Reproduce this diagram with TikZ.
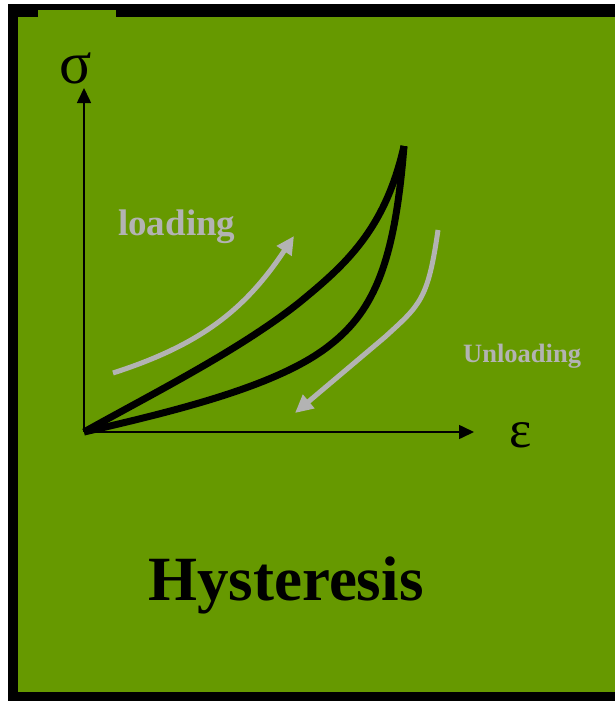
\documentclass[tikz,border=0pt]{standalone}
\usepackage{fontspec}
\setmainfont{Liberation Serif}
\usetikzlibrary{arrows.meta}
\definecolor{OliveGreen}{HTML}{669900}
\definecolor{SoftGray}{HTML}{B3B3B3}

\begin{document}
\begin{tikzpicture}[
    x=1pt, y=-1pt,
    axis/.style={line width=1.6pt, -{Triangle[length=15pt,width=14pt]}},
    loop/.style={line width=7pt, line join=round},
    grayarrow/.style={SoftGray, line width=5pt, -{Triangle[length=18pt,width=17pt]}},
    label/.style={font=\bfseries, text=SoftGray, inner sep=0pt, anchor=base west}
  ]
    \useasboundingbox (0,0) rectangle (615,701);
    % Frame
    \fill[white] (0,0) rectangle (615,701);
    \fill[black] (8,4) rectangle (615,701);
    \fill[OliveGreen] (18,17) rectangle (615,692);
    \fill[OliveGreen] (38,10) rectangle (116,17);

    % Axes
    \coordinate (o) at (84,432);
    \coordinate (ytip) at (84,88);
    \coordinate (xtip) at (474,432);
    \draw[axis] (o) -- (ytip);
    \draw[axis] (o) -- (xtip);
    \node[inner sep=0pt, anchor=base west] (sig) at (59,83) {\fontsize{60}{60}\selectfont σ};
    \node[inner sep=0pt, anchor=base west] (eps) at (509,447) {\fontsize{53}{53}\selectfont ε};

    % Hysteresis loop
    \coordinate (top) at (404,146);
    \draw[loop] (o) .. controls (150,395) and (240,350) .. (300,302)
                    .. controls (345,265) and (385,230) .. (top);
    \draw[loop] (o) .. controls (180,410) and (280,385) .. (330,345)
                    .. controls (375,310) and (395,260) .. (top);

    % Loading / unloading arrows
    \draw[grayarrow] (113,373) .. controls (200,345) and (245,310) .. (294,236);
    \draw[grayarrow] (438,230) .. controls (428,300) and (420,305) .. (385,337) -- (295,413);
    \node[label, font=\bfseries\fontsize{37}{37}\selectfont] (load) at (118,235) {loading};
    \node[label, font=\bfseries\fontsize{26.5}{26.5}\selectfont] (unload) at (463,362) {Unloading};

    % Title
    \node[inner sep=0pt, anchor=base west, font=\bfseries\fontsize{63}{63}\selectfont] (title) at (148,600) {Hysteresis};
  \end{tikzpicture}
\end{document}
